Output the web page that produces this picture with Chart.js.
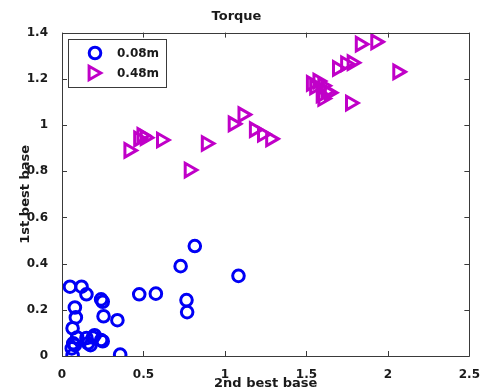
<!DOCTYPE html>
<html>
<head>
<meta charset="utf-8">
<script src="https://cdn.jsdelivr.net/npm/chart.js@4/dist/chart.umd.min.js"></script>
<style>
html,body{margin:0;padding:0;background:#fff;}
#wrap{width:484px;height:391px;position:relative;}
</style>
</head>
<body>
<div id="wrap"><canvas id="c" width="484" height="391"></canvas></div>
<script>
const chartTitle = 'Torque';
const xTitle = '2nd best base';
const yTitle = '1st best base';
const seriesLabels = ['0.08m', '0.48m'];
const xTickLabels = ['0', '0.5', '1', '1.5', '2', '2.5'];
const yTickLabels = ['0', '0.2', '0.4', '0.6', '0.8', '1', '1.2', '1.4'];

const s008X = [0.049, 0.12, 0.15, 0.079, 0.085, 0.065, 0.093, 0.15, 0.2, 0.24, 0.25, 0.175, 0.16, 0.079, 0.069, 0.06, 0.065, 0.357, 0.24, 0.25, 0.255, 0.34, 0.474, 0.576, 0.728, 0.764, 0.768, 1.083, 0.815, 0.19];
const s008Y = [0.30, 0.30, 0.267, 0.21, 0.167, 0.12, 0.08, 0.078, 0.09, 0.069, 0.064, 0.047, 0.055, 0.047, 0.055, 0.033, 0.003, 0.006, 0.245, 0.235, 0.172, 0.155, 0.267, 0.27, 0.389, 0.242, 0.19, 0.347, 0.476, 0.08];
const s048X = [0.41, 0.47, 0.49, 0.51, 0.61, 0.78, 0.885, 1.05, 1.11, 1.18, 1.23, 1.28, 1.53, 1.55, 1.57, 1.6, 1.59, 1.62, 1.64, 1.6, 1.77, 1.69, 1.74, 1.78, 1.83, 1.925, 2.06];
const s048Y = [0.89, 0.94, 0.955, 0.945, 0.935, 0.805, 0.92, 1.005, 1.045, 0.98, 0.96, 0.94, 1.18, 1.165, 1.19, 1.17, 1.13, 1.145, 1.14, 1.115, 1.095, 1.245, 1.265, 1.27, 1.35, 1.36, 1.23];

const FONT = 'DejaVu Sans';
const toPts = (xs, ys) => xs.map((x, i) => ({x: x, y: ys[i]}));

const boxPlugin = {
  id: 'boxTicks',
  afterDraw(chart) {
    const ctx = chart.ctx;
    const a = chart.chartArea;
    const xs = chart.scales.x, ys = chart.scales.y;
    ctx.save();
    ctx.strokeStyle = '#3a3a3a';
    ctx.lineWidth = 1;
    ctx.beginPath();
    ctx.rect(Math.round(a.left) + 0.5, Math.round(a.top) + 0.5, Math.round(a.right - a.left), Math.round(a.bottom - a.top));
    ctx.stroke();
    const L = 5;
    ctx.beginPath();
    xs.ticks.forEach(t => {
      const px = Math.round(xs.getPixelForValue(t.value)) + 0.5;
      ctx.moveTo(px, a.bottom); ctx.lineTo(px, a.bottom - L);
      ctx.moveTo(px, a.top); ctx.lineTo(px, a.top + L);
    });
    ys.ticks.forEach(t => {
      const py = Math.round(ys.getPixelForValue(t.value)) + 0.5;
      ctx.moveTo(a.left, py); ctx.lineTo(a.left + L, py);
      ctx.moveTo(a.right, py); ctx.lineTo(a.right - L, py);
    });
    ctx.stroke();

    // legend inside the axes (MATLAB style)
    const lx = 68, ly = 39, lw = 98, lh = 48;
    ctx.fillStyle = '#fff';
    ctx.fillRect(lx, ly, lw, lh);
    ctx.strokeStyle = '#3a3a3a';
    ctx.strokeRect(lx + 0.5, ly + 0.5, lw, lh);
    chart.data.datasets.forEach((ds, i) => {
      const cy = 53 + i * 20;
      ctx.strokeStyle = ds.borderColor;
      ctx.fillStyle = 'rgba(0,0,0,0)';
      ctx.lineWidth = ds.borderWidth;
      const px = ds.pointStyle === 'triangle' ? 93 : 95;
      Chart.helpers.drawPoint(ctx, {pointStyle: ds.pointStyle, radius: ds.pointRadius, rotation: ds.rotation || 0, borderWidth: ds.borderWidth}, px, cy);
      ctx.fillStyle = '#1a1a1a';
      ctx.font = 'bold 12px "' + FONT + '"';
      ctx.textBaseline = 'middle';
      ctx.textAlign = 'left';
      ctx.fillText(ds.label, 117, cy + 1);
    });
    ctx.restore();
  }
};

new Chart(document.getElementById('c'), {
  type: 'scatter',
  data: {
    datasets: [
      {label: seriesLabels[0], data: toPts(s008X, s008Y), pointStyle: 'circle', pointRadius: 5.8, pointHoverRadius: 5.8,
       borderColor: '#0000f5', backgroundColor: 'rgba(0,0,0,0)', borderWidth: 3},
      {label: seriesLabels[1], data: toPts(s048X, s048Y), pointStyle: 'triangle', rotation: 90, pointRotation: 90, pointRadius: 7.8, pointHoverRadius: 7.8,
       borderColor: '#c000c8', backgroundColor: 'rgba(0,0,0,0)', borderWidth: 3}
    ]
  },
  options: {
    responsive: false,
    animation: false,
    events: [],
    layout: {padding: {left: 0, right: 11, top: 0, bottom: 0}},
    plugins: {
      legend: {display: false},
      tooltip: {enabled: false},
      title: {display: true, text: chartTitle, color: '#1a1a1a', font: {family: FONT, size: 13, weight: 'bold'}, padding: {top: 9, bottom: 8}}
    },
    scales: {
      x: {
        type: 'linear', min: 0, max: 2.5,
        grid: {display: false}, border: {display: false},
        ticks: {stepSize: 0.5, padding: 4, color: '#1a1a1a', font: {family: FONT, size: 12, weight: 'bold'},
          callback: (v) => xTickLabels[Math.round(v / 0.5)]},
        title: {display: true, text: xTitle, color: '#1a1a1a', font: {family: FONT, size: 13, weight: 'bold'}, padding: {top: 0, bottom: 0}},
        afterFit: (s) => { s.height = 35; }
      },
      y: {
        type: 'linear', min: 0, max: 1.4,
        grid: {display: false}, border: {display: false},
        ticks: {stepSize: 0.2, padding: 6, color: '#1a1a1a', font: {family: FONT, size: 12, weight: 'bold'},
          callback: (v) => yTickLabels[Math.round(v / 0.2)]},
        title: {display: true, text: yTitle, color: '#1a1a1a', font: {family: FONT, size: 13, weight: 'bold'}, padding: {top: 18, bottom: 0}},
        afterFit: (s) => { s.width = 62; }
      }
    }
  },
  plugins: [boxPlugin]
});
</script>
</body>
</html>
